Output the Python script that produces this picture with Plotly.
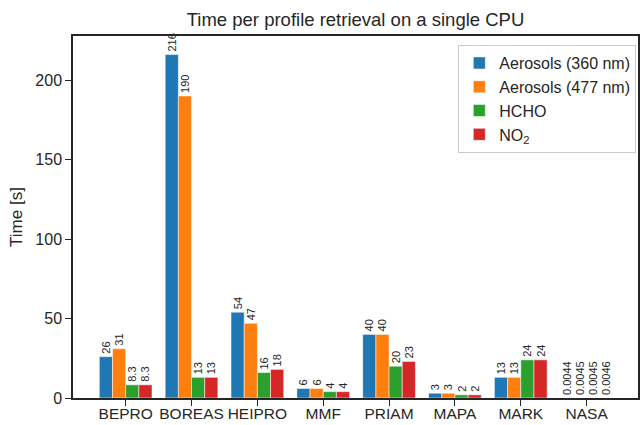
import plotly.graph_objects as go

models = ["BEPRO", "BOREAS", "HEIPRO", "MMF", "PRIAM", "MAPA", "MARK", "NASA"]
aer360 = [26, 216, 54, 6, 40, 3, 13, 0.0044]
aer477 = [31, 190, 47, 6, 40, 3, 13, 0.0045]
hcho = [8.3, 13, 16, 4, 20, 2, 24, 0.0045]
no2 = [8.3, 13, 18, 4, 23, 2, 24, 0.0046]

series = [
    ("Aerosols (360 nm)", aer360, "#1f77b4"),
    ("Aerosols (477 nm)", aer477, "#ff7f0e"),
    ("HCHO", hcho, "#2ca02c"),
    ("NO<sub>2</sub>", no2, "#d62728"),
]

fig = go.Figure()
for name, vals, color in series:
    fig.add_trace(go.Bar(
        x=models, y=vals, name=name,
        marker=dict(color=color, line=dict(color="white", width=0.5)),
        text=[str(v) for v in vals], textposition="outside", textangle=-90,
        constraintext="none",
        textfont=dict(size=11, color="#262626"), cliponaxis=False,
    ))

font = "Liberation Sans, Arial, sans-serif"
fig.update_layout(
    width=640, height=425,
    margin=dict(l=73, r=2, t=36, b=27, autoexpand=False),
    plot_bgcolor="white", paper_bgcolor="white",
    font=dict(family=font, size=16, color="#262626"),
    title=dict(text="Time per profile retrieval on a single CPU", x=0.5, xanchor="center",
               xref="paper", y=0.955, yanchor="middle", font=dict(size=18.5, color="#262626"),
               automargin=False),
    barmode="group", bargap=0.2, bargroupgap=0,
    legend=dict(x=0.997, y=0.975, xanchor="right", yanchor="top",
                bordercolor="#cccccc", borderwidth=1, bgcolor="white",
                font=dict(size=16), tracegroupgap=0),
    showlegend=True,
)
fig.update_xaxes(showline=True, linecolor="#262626", linewidth=1.5, mirror=True,
                 ticks="outside", ticklen=6, tickcolor="#262626", tickwidth=1.2,
                 range=[-0.8, 7.78], showgrid=False, automargin=False,
                 tickangle=0, tickfont=dict(size=15.5), ticklabelstandoff=-5)
fig.update_yaxes(showline=True, linecolor="#262626", linewidth=1.5, mirror=True,
                 ticks="outside", ticklen=6, tickcolor="#262626", tickwidth=1.2,
                 range=[0, 227.7], tickvals=[0, 50, 100, 150, 200], showgrid=False,
                 zeroline=False, automargin=False, tickfont=dict(size=16),
                 title=dict(text="Time [s]", standoff=8, font=dict(size=17)))

# drop the default 8px body margin so the figure fills the window
fig.write_html("out.html", config={"displayModeBar": False},
               post_script="document.body.style.margin='0';")
